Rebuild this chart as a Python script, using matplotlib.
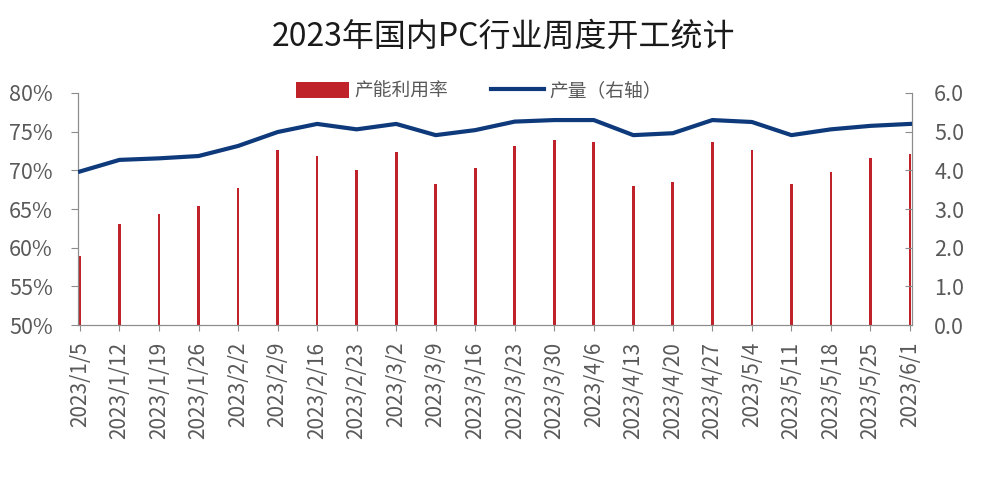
import matplotlib.pyplot as plt
import numpy as np

plt.rcParams['font.family'] = ['Noto Sans CJK SC', 'DejaVu Sans']

# weekly dates
dates = ["2023/1/5", "2023/1/12", "2023/1/19", "2023/1/26", "2023/2/2", "2023/2/9",
         "2023/2/16", "2023/2/23", "2023/3/2", "2023/3/9", "2023/3/16", "2023/3/23",
         "2023/3/30", "2023/4/6", "2023/4/13", "2023/4/20", "2023/4/27", "2023/5/4",
         "2023/5/11", "2023/5/18", "2023/5/25", "2023/6/1"]

# capacity utilisation (%), left axis
util = [58.9, 63.1, 64.3, 65.4, 67.7, 72.6, 71.8, 70.0, 72.4, 68.2, 70.3, 73.1,
        73.9, 73.7, 68.0, 68.5, 73.7, 72.6, 68.2, 69.8, 71.6, 72.1]

# output, right axis
output = [3.97, 4.27, 4.31, 4.37, 4.63, 4.99, 5.20, 5.06, 5.20, 4.91, 5.04, 5.26,
          5.30, 5.30, 4.91, 4.96, 5.30, 5.25, 4.91, 5.06, 5.15, 5.20]

gray = '#595959'
axcol = '#8c8c8c'

fig = plt.figure(figsize=(9.82, 4.92), dpi=100)
ax = fig.add_axes([0.0794, 0.3394, 0.8493, 0.4716])
x = np.arange(len(dates))

bars = ax.bar(x, util, width=0.07, color='#c0222a', label='产能利用率', zorder=2)
ax.set_ylim(50, 80)
ax.set_yticks(range(50, 81, 5))
ax.set_yticklabels([f'{v}%' for v in range(50, 81, 5)])
ax.set_xlim(-0.05, len(dates) - 0.95)
ax.set_xticks(x)
ax.set_xticklabels(dates, rotation=90)

ax2 = ax.twinx()
line, = ax2.plot(x, output, color='#0e3a7c', lw=3, label='产量（右轴）', zorder=3)
ax2.set_ylim(0, 6)
ax2.set_yticks(np.arange(0, 6.1, 1))
ax2.set_yticklabels([f'{v:.1f}' for v in np.arange(0, 6.1, 1)])

for a in (ax, ax2):
    a.spines['top'].set_visible(False)
    for s in ('left', 'right', 'bottom'):
        a.spines[s].set_color(axcol)
    a.tick_params(colors=axcol, labelcolor=gray, labelsize=15.5)
ax.tick_params(axis='y', length=5, pad=13)
ax.tick_params(axis='x', length=4, labelsize=15, pad=8)
ax2.tick_params(axis='y', direction='in', length=5, pad=16)

fig.text(0.513, 0.925, '2023年国内PC行业周度开工统计', ha='center', va='center',
         fontsize=23, color='#1a1a1a')
fig.legend(handles=[bars, line], loc='center', bbox_to_anchor=(0.488, 0.815), ncol=2,
           frameon=False, fontsize=13.5, labelcolor=gray, handlelength=2.8,
           handleheight=0.9, columnspacing=2.3, handletextpad=0.3)

fig.savefig('out.png', dpi=100)
